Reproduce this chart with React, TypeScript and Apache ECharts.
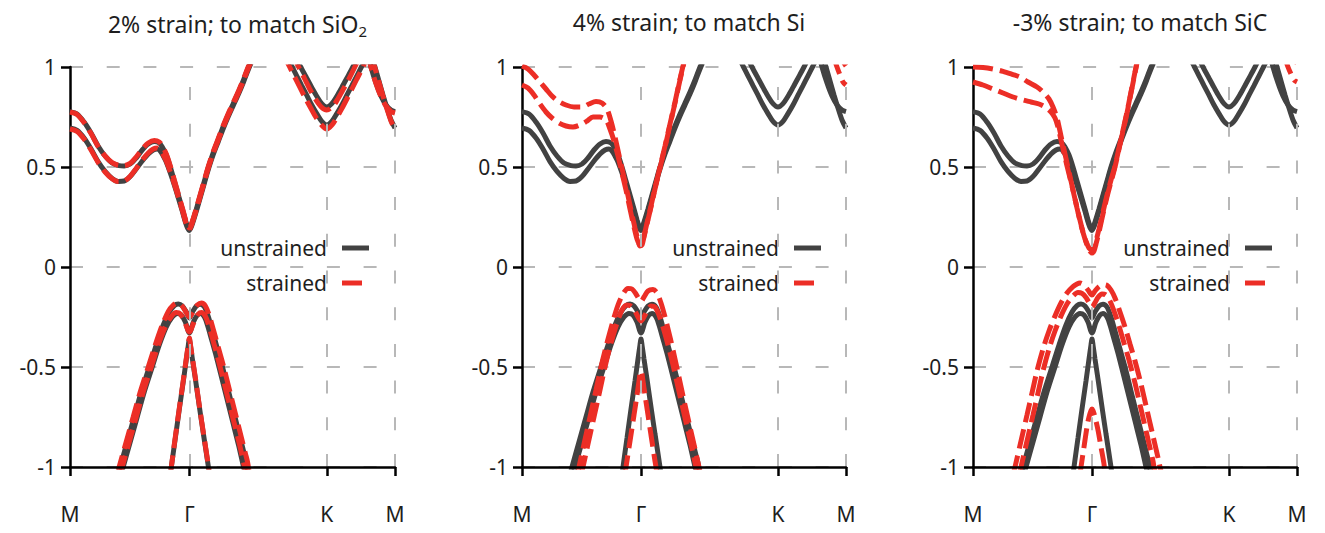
import React, { useEffect, useRef } from "react";
import * as echarts from "echarts";

// ---------- axis data ----------
const K_POINTS = [0, 119, 256, 324];
const K_LABELS = ["M", "Γ", "K", "M"];
const E_MIN = -1;
const E_MAX = 1;
const E_STEP = 0.5;
const E_TICK_VALUES = [-1, -0.5, 0, 0.5, 1];
const E_TICK_LABELS = ["-1", "-0.5", "0", "0.5", "1"];

const TITLE_MAIN = ["2% strain; to match SiO", "4% strain; to match Si", "-3% strain; to match SiC"];
const TITLE_SUB = ["2", "", ""];
const SERIES_NAMES = ["unstrained", "strained"];

// ---------- unstrained bands (same in every panel) ----------
const UN_CB1 = [[0,0.777],[7,0.765],[14,0.725],[21,0.67],[28,0.605],[35,0.555],[42,0.52],[49,0.507],[54,0.505],[60,0.515],[66,0.545],[72,0.585],[78,0.615],[84,0.627],[89,0.62],[92,0.6],[96,0.56],[100,0.5],[104,0.43],[108,0.36],[112,0.29],[115,0.235],[117,0.205],[119,0.188],[122,0.225],[126,0.29],[130,0.36],[134,0.43],[138,0.5],[143,0.575],[148,0.64],[153,0.705],[158,0.765],[163,0.82],[168,0.875],[173,0.935],[178,1.0],[185,1.08]];
const UN_CB2 = [[0,0.695],[7,0.683],[14,0.645],[21,0.59],[28,0.527],[35,0.478],[42,0.443],[48,0.428],[54,0.43],[60,0.452],[66,0.49],[72,0.53],[78,0.565],[83,0.585],[87,0.59],[90,0.58],[93,0.555],[96,0.525],[100,0.47],[104,0.41],[108,0.345],[112,0.278],[115,0.225],[117,0.197],[119,0.183],[122,0.215],[126,0.28],[130,0.35],[134,0.42],[138,0.49],[143,0.565],[148,0.63],[153,0.695],[158,0.755],[163,0.81],[168,0.865],[173,0.925],[178,0.99],[185,1.07]];
const UN_KU = [[222,1.08],[230,1.0],[236,0.944],[241,0.898],[246,0.854],[251,0.817],[256,0.8],[261,0.817],[266,0.854],[271,0.898],[276,0.944],[282,1.0],[289,1.07]];
const UN_KL = [[214,1.075],[221,1.005],[226,0.956],[231,0.907],[236,0.859],[241,0.81],[246,0.767],[251,0.728],[256,0.71],[261,0.728],[266,0.767],[271,0.81],[276,0.859],[281,0.907],[286,0.956],[291,1.005],[297,1.065]];
const UN_MU = [[296,1.08],[300,1.0],[305,0.92],[310,0.855],[315,0.81],[320,0.785],[324,0.777]];
const UN_ML = [[300,1.065],[304,1.0],[308,0.93],[312,0.86],[316,0.795],[320,0.735],[324,0.695]];
const UN_VA = [[48,-1.04],[50,-1.0],[57,-0.875],[64,-0.75],[71,-0.625],[79,-0.5],[86,-0.39],[93,-0.29],[99,-0.225],[104,-0.193],[108,-0.185],[112,-0.195],[116,-0.225],[119,-0.255],[122,-0.225],[126,-0.195],[130,-0.186],[134,-0.2],[138,-0.25],[142,-0.32],[147,-0.41],[152,-0.5],[158,-0.62],[164,-0.74],[170,-0.86],[174,-0.94],[176,-0.98],[178,-1.04]];
const UN_VB = [[51,-1.04],[53,-1.0],[60,-0.875],[67,-0.75],[74,-0.625],[82,-0.5],[89,-0.39],[96,-0.3],[102,-0.25],[107,-0.232],[111,-0.24],[115,-0.275],[119,-0.33],[123,-0.275],[127,-0.24],[130,-0.232],[134,-0.25],[137,-0.29],[141,-0.36],[146,-0.45],[150,-0.53],[156,-0.65],[162,-0.77],[168,-0.89],[173,-1.0],[175,-1.04]];
const UN_VC = [[100,-1.04],[101,-1.0],[105,-0.855],[109,-0.71],[113,-0.57],[116,-0.46],[118,-0.39],[119,-0.36],[120,-0.39],[122,-0.46],[125,-0.56],[129,-0.7],[133,-0.835],[138,-1.0],[139,-1.04]];

// ---------- strained bands, panel 1 (2%) ----------
const P1_CB1 = [[0,0.775],[7,0.763],[14,0.722],[21,0.667],[28,0.603],[35,0.555],[42,0.522],[49,0.508],[54,0.507],[60,0.518],[66,0.55],[72,0.59],[78,0.62],[84,0.632],[89,0.625],[92,0.605],[96,0.565],[100,0.505],[104,0.435],[108,0.365],[112,0.295],[115,0.24],[117,0.21],[119,0.195],[122,0.23],[126,0.295],[130,0.365],[134,0.435],[138,0.505],[143,0.58],[148,0.645],[153,0.71],[158,0.77],[163,0.825],[168,0.88],[173,0.94],[178,1.005],[185,1.085]];
const P1_CB2 = [[0,0.69],[7,0.678],[14,0.64],[21,0.585],[28,0.523],[35,0.475],[42,0.441],[48,0.427],[54,0.43],[60,0.454],[66,0.493],[72,0.535],[78,0.57],[83,0.59],[87,0.595],[90,0.585],[93,0.56],[96,0.53],[100,0.475],[104,0.415],[108,0.35],[112,0.283],[115,0.23],[117,0.202],[119,0.19],[122,0.222],[126,0.287],[130,0.357],[134,0.427],[138,0.497],[143,0.572],[148,0.637],[153,0.702],[158,0.762],[163,0.817],[168,0.872],[173,0.932],[178,0.997],[185,1.077]];
const P1_KU = [[220,1.08],[228,1.0],[234,0.94],[239,0.89],[244,0.845],[250,0.803],[256,0.785],[262,0.803],[267,0.84],[272,0.885],[277,0.93],[283,0.99],[290,1.065]];
const P1_KL = [[212,1.07],[219,1.0],[224,0.95],[229,0.9],[234,0.85],[240,0.795],[245,0.75],[251,0.709],[256,0.69],[261,0.709],[266,0.748],[271,0.792],[276,0.84],[281,0.89],[286,0.94],[292,1.0],[298,1.065]];
const P1_MU = [[296,1.08],[300,1.0],[305,0.918],[310,0.852],[315,0.805],[320,0.778],[324,0.77]];
const P1_ML = [[300,1.065],[304,0.995],[308,0.925],[312,0.855],[316,0.79],[320,0.73],[324,0.688]];
const P1_VA = [[47,-1.04],[49,-1.0],[56,-0.875],[63,-0.75],[70,-0.625],[78,-0.5],[85,-0.39],[92,-0.29],[98,-0.222],[103,-0.19],[107,-0.18],[111,-0.19],[115,-0.22],[119,-0.25],[123,-0.22],[127,-0.19],[131,-0.18],[135,-0.195],[139,-0.245],[143,-0.315],[148,-0.405],[153,-0.495],[159,-0.615],[165,-0.735],[171,-0.855],[175,-0.935],[177,-0.975],[179,-1.04]];
const P1_VB = [[50,-1.04],[52,-1.0],[59,-0.875],[66,-0.75],[73,-0.625],[81,-0.5],[88,-0.39],[95,-0.3],[101,-0.247],[106,-0.228],[110,-0.235],[114,-0.27],[119,-0.325],[124,-0.27],[128,-0.235],[131,-0.228],[135,-0.247],[138,-0.287],[142,-0.357],[147,-0.447],[151,-0.527],[157,-0.647],[163,-0.767],[169,-0.887],[174,-1.0],[176,-1.04]];
const P1_VC = [[100,-1.04],[101,-1.0],[105,-0.85],[109,-0.705],[113,-0.565],[116,-0.455],[118,-0.385],[119,-0.355],[120,-0.385],[122,-0.455],[125,-0.555],[129,-0.695],[133,-0.83],[138,-0.995],[139,-1.04]];

// ---------- strained bands, panel 2 (4%) ----------
const P2_CB1 = [[0,1.005],[6,0.99],[12,0.96],[18,0.925],[24,0.89],[30,0.855],[36,0.83],[44,0.81],[52,0.8],[60,0.8],[67,0.815],[74,0.827],[80,0.82],[85,0.79],[89,0.73],[93,0.65],[97,0.56],[101,0.47],[105,0.38],[109,0.285],[113,0.195],[116,0.135],[118,0.105],[120,0.11],[122,0.15],[125,0.215],[129,0.3],[133,0.39],[138,0.495],[143,0.6],[148,0.71],[153,0.82],[158,0.935],[161,1.0],[165,1.09]];
const P2_CB2 = [[0,0.91],[6,0.895],[12,0.86],[18,0.815],[24,0.775],[30,0.745],[37,0.72],[44,0.705],[51,0.7],[58,0.71],[65,0.73],[71,0.75],[78,0.75],[84,0.735],[88,0.69],[92,0.63],[96,0.555],[100,0.47],[104,0.385],[108,0.29],[112,0.2],[115,0.14],[118,0.11],[120,0.115],[122,0.155],[125,0.22],[129,0.305],[133,0.395],[138,0.5],[143,0.605],[148,0.715],[153,0.825],[158,0.94],[161,1.005],[165,1.095]];
const P2_MU = [[318,1.06],[322,1.02],[324,1.005]];
const P2_ML = [[311,1.06],[315,1.0],[318,0.96],[321,0.925],[324,0.91]];
const P2_VA = [[55,-1.04],[57,-1.0],[62,-0.885],[68,-0.75],[74,-0.615],[79,-0.5],[85,-0.38],[91,-0.27],[96,-0.19],[101,-0.135],[106,-0.107],[110,-0.11],[114,-0.135],[117,-0.16],[119,-0.172],[122,-0.15],[126,-0.12],[131,-0.113],[135,-0.13],[139,-0.18],[143,-0.25],[148,-0.35],[153,-0.46],[158,-0.575],[163,-0.69],[168,-0.8],[173,-0.91],[177,-1.0],[179,-1.04]];
const P2_VB = [[59,-1.04],[61,-1.0],[66,-0.885],[72,-0.75],[78,-0.615],[83,-0.5],[89,-0.38],[95,-0.28],[100,-0.215],[105,-0.19],[109,-0.195],[113,-0.22],[116,-0.25],[119,-0.27],[122,-0.25],[125,-0.22],[129,-0.195],[133,-0.2],[137,-0.24],[141,-0.3],[146,-0.39],[151,-0.49],[156,-0.6],[161,-0.71],[166,-0.82],[171,-0.93],[174,-1.0],[176,-1.04]];
const P2_VC = [[103,-1.04],[104,-1.0],[108,-0.87],[112,-0.74],[115,-0.64],[117,-0.57],[118,-0.535],[119,-0.52],[120,-0.535],[121,-0.57],[123,-0.64],[126,-0.74],[129,-0.84],[133,-0.97],[134,-1.0],[135,-1.04]];

// ---------- strained bands, panel 3 (-3%) ----------
const P3_CB1 = [[0,1.0],[10,0.998],[20,0.99],[30,0.978],[40,0.962],[47,0.95],[55,0.925],[64,0.9],[70,0.875],[76,0.84],[80,0.8],[84,0.745],[88,0.655],[92,0.565],[96,0.475],[100,0.385],[104,0.295],[108,0.21],[112,0.14],[115,0.098],[117,0.078],[119,0.07],[121,0.08],[123,0.115],[126,0.175],[130,0.265],[134,0.35],[138,0.425],[142,0.5],[146,0.59],[150,0.68],[154,0.77],[158,0.87],[162,0.97],[164,1.02],[166,1.07]];
const P3_CB2 = [[0,0.925],[10,0.91],[20,0.89],[30,0.87],[40,0.85],[50,0.835],[58,0.825],[66,0.815],[72,0.8],[78,0.775],[82,0.745],[85,0.7],[88,0.635],[91,0.57],[94,0.505],[98,0.425],[102,0.34],[106,0.255],[110,0.175],[113,0.128],[116,0.095],[119,0.085],[121,0.095],[123,0.13],[126,0.19],[130,0.275],[134,0.36],[138,0.435],[142,0.505],[146,0.595],[150,0.685],[154,0.775],[158,0.875],[162,0.975],[164,1.025],[166,1.075]];
const P3_MU = [[318,1.06],[322,1.03],[324,1.02]];
const P3_ML = [[311,1.06],[315,1.0],[318,0.965],[321,0.935],[324,0.925]];
const P3_VA = [[40,-1.04],[42,-1.0],[48,-0.87],[54,-0.74],[59,-0.63],[64,-0.52],[70,-0.41],[76,-0.32],[82,-0.245],[88,-0.18],[94,-0.13],[100,-0.098],[104,-0.085],[107,-0.08],[111,-0.09],[115,-0.115],[119,-0.14],[122,-0.12],[126,-0.098],[130,-0.088],[134,-0.092],[138,-0.115],[142,-0.155],[147,-0.225],[152,-0.3],[157,-0.385],[162,-0.47],[168,-0.585],[174,-0.715],[180,-0.845],[186,-0.975],[187,-1.0],[189,-1.04]];
const P3_VB = [[46,-1.04],[48,-1.0],[54,-0.87],[60,-0.74],[65,-0.63],[70,-0.52],[76,-0.41],[82,-0.32],[88,-0.245],[94,-0.185],[100,-0.145],[105,-0.128],[109,-0.132],[113,-0.152],[116,-0.178],[119,-0.2],[122,-0.178],[125,-0.152],[129,-0.135],[133,-0.14],[137,-0.17],[141,-0.22],[146,-0.295],[151,-0.38],[156,-0.465],[162,-0.58],[168,-0.71],[174,-0.84],[180,-0.97],[181,-1.0],[183,-1.04]];
const P3_VC = [[107,-1.04],[108,-1.0],[111,-0.9],[114,-0.8],[116,-0.75],[118,-0.718],[119,-0.71],[120,-0.718],[122,-0.75],[125,-0.815],[128,-0.9],[131,-0.985],[132,-1.04]];

const UNSTRAINED_BANDS = [UN_CB1, UN_CB2, UN_KU, UN_KL, UN_MU, UN_ML, UN_VA, UN_VB, UN_VC];
const STRAINED_P1 = [P1_CB1, P1_CB2, P1_KU, P1_KL, P1_MU, P1_ML, P1_VA, P1_VB, P1_VC];
const STRAINED_P2 = [P2_CB1, P2_CB2, P2_MU, P2_ML, P2_VA, P2_VB, P2_VC];
const STRAINED_P3 = [P3_CB1, P3_CB2, P3_MU, P3_ML, P3_VA, P3_VB, P3_VC];
const STRAINED_BANDS = [STRAINED_P1, STRAINED_P2, STRAINED_P3];

// ---------- layout / style ----------
const W = 1325;
const H = 533;
const PANELS = [
  { left: 70, width: 325 },
  { left: 522, width: 324 },
  { left: 973, width: 324 },
];
const GRID_TOP = 67;
const GRID_H = 400;
const FONT = '"Noto Sans", sans-serif';
const GRAY = "#424242";
const RED = "#ec2e26";
const GRID_COLOR = "#b8b8b8";
const GRID_DASH = [13, 23.7];
const TEXT = "#1e1e1e";
// legend sample widths: solid sample and one red dash
const LEGEND_ICON_W = [27, 20];

function buildOption() {
  const grid = PANELS.map((p) => ({ left: p.left, top: GRID_TOP, width: p.width, height: GRID_H, containLabel: false }));
  const xAxis = PANELS.map((p, i) => ({
    gridIndex: i,
    type: "value",
    min: K_POINTS[0],
    max: K_POINTS[K_POINTS.length - 1],
    z: 5,
    axisLine: { show: true, onZero: false, lineStyle: { color: "#000", width: 2.5 } },
    axisTick: { show: true, customValues: K_POINTS, length: 9, lineStyle: { color: "#000", width: 2.5 } },
    axisLabel: {
      show: true,
      customValues: K_POINTS,
      formatter: (v: number) => {
        const idx = K_POINTS.indexOf(Math.round(v));
        return idx >= 0 ? K_LABELS[idx] : "";
      },
      margin: 36,
      fontSize: 21,
      fontFamily: FONT,
      color: TEXT,
    },
    splitLine: { show: false },
  }));
  const yAxis = PANELS.map((p, i) => ({
    gridIndex: i,
    type: "value",
    min: E_MIN,
    max: E_MAX,
    interval: E_STEP,
    axisLine: { show: true, onZero: false, lineStyle: { color: "#000", width: 2.5 } },
    axisTick: { show: true, length: 9, lineStyle: { color: "#000", width: 2.5 } },
    axisLabel: {
      formatter: (v: number) => {
        const idx = E_TICK_VALUES.findIndex((t) => Math.abs(t - v) < 1e-9);
        return idx >= 0 ? E_TICK_LABELS[idx] : String(v);
      },
      margin: 14,
      fontSize: 21,
      fontFamily: FONT,
      color: TEXT,
    },
    splitLine: { show: true, lineStyle: { type: GRID_DASH, color: GRID_COLOR, width: 2 } },
  }));

  const series: any[] = [];
  PANELS.forEach((p, i) => {
    series.push({
      type: "line",
      xAxisIndex: i,
      yAxisIndex: i,
      data: [],
      silent: true,
      z: 1,
      markLine: {
        silent: true,
        symbol: ["none", "none"],
        label: { show: false },
        lineStyle: { type: GRID_DASH, color: GRID_COLOR, width: 2 },
        emphasis: { disabled: true },
        data: K_POINTS.slice(1).map((k) => ({ xAxis: k })),
      },
    });
    UNSTRAINED_BANDS.forEach((b) =>
      series.push({
        name: SERIES_NAMES[0],
        type: "line",
        xAxisIndex: i,
        yAxisIndex: i,
        data: b,
        symbol: "none",
        smooth: 0.3,
        silent: true,
        z: 2,
        lineStyle: { color: GRAY, width: 5 },
        itemStyle: { color: GRAY },
      })
    );
    STRAINED_BANDS[i].forEach((b) =>
      series.push({
        name: SERIES_NAMES[1],
        type: "line",
        xAxisIndex: i,
        yAxisIndex: i,
        data: b,
        symbol: "none",
        smooth: 0.3,
        silent: true,
        z: 3,
        lineStyle: { color: RED, width: 5, type: [20, 7] },
        itemStyle: { color: RED },
      })
    );
  });

  const legend: any[] = [];
  PANELS.forEach((p) => {
    SERIES_NAMES.forEach((name, j) => {
      legend.push({
        data: [name],
        orient: "vertical",
        align: "right",
        icon: "rect",
        right: W - (p.left + 272 + LEGEND_ICON_W[j]),
        top: 236 + j * 35,
        itemWidth: LEGEND_ICON_W[j],
        itemHeight: 5,
        padding: 0,
        selectedMode: false,
        textStyle: { fontSize: 21, fontFamily: FONT, color: TEXT, lineHeight: 24, padding: [0, 10, 0, 0] },
      });
    });
  });

  const title = PANELS.map((p, i) => ({
    text: TITLE_SUB[i] ? `{m|${TITLE_MAIN[i]}}{s|${TITLE_SUB[i]}}` : `{m|${TITLE_MAIN[i]}}`,
    left: p.left + p.width / 2,
    top: 5,
    textAlign: "center",
    textStyle: {
      fontWeight: "normal",
      rich: {
        m: { fontSize: 23, fontFamily: FONT, color: TEXT, fontWeight: "normal" },
        s: { fontSize: 15, fontFamily: FONT, color: TEXT, fontWeight: "normal", padding: [13, 0, 0, 0] },
      },
    },
  }));

  return {
    animation: false,
    backgroundColor: "#fff",
    title,
    legend,
    grid,
    xAxis,
    yAxis,
    series,
  };
}

export default function App() {
  const ref = useRef<HTMLDivElement>(null);
  useEffect(() => {
    if (!ref.current) return;
    const chart = echarts.init(ref.current, undefined, { renderer: "svg" });
    chart.setOption(buildOption() as any);
    return () => chart.dispose();
  }, []);
  return <div ref={ref} style={{ position: "fixed", left: 0, top: 0, width: W, height: H }} />;
}
